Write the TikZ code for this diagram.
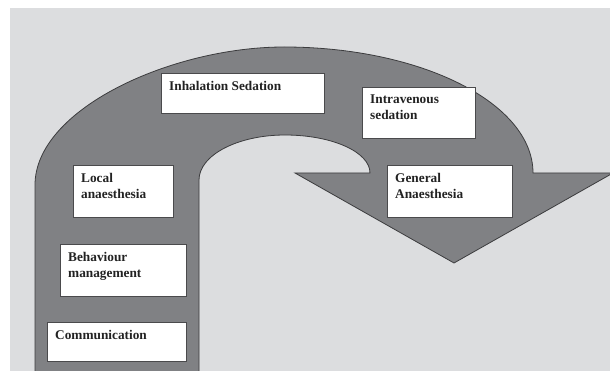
\documentclass[tikz,border=0pt]{standalone}
\usepackage{fontspec}
\setmainfont{Liberation Serif}
\definecolor{bgc}{HTML}{DCDDDF}
\definecolor{arrowc}{HTML}{808184}
\definecolor{edgec}{HTML}{3C3C3E}
\definecolor{boxline}{HTML}{4A4A4C}
\definecolor{txtc}{HTML}{222222}
\begin{document}
\begin{tikzpicture}[x=1pt,y=-1pt,
  box/.style={draw=boxline,fill=white,line width=0.9pt,inner sep=0pt,anchor=north west},
  lbl/.style={font=\bfseries\fontsize{13.3}{16}\selectfont,align=left,anchor=north west,inner sep=0pt,text=txtc}]
\useasboundingbox (0,0) rectangle (610,371);
\fill[white] (0,0) rectangle (610,371);
\fill[bgc] (10,8) rectangle (610,371);
\begin{scope}
\clip (10,8) rectangle (610,371);
\draw[fill=arrowc, draw=edgec, line width=0.8pt]
  (35,380) -- (35,185)
  .. controls (35,109) and (172,47) .. (284,47)
  .. controls (421,47) and (533,103) .. (533,173)
  -- (613,173) -- (454,263) -- (295,173) -- (370,173)
  .. controls (370,152) and (332,135) .. (285,135)
  .. controls (238,135) and (199,155) .. (199,180)
  -- (199,380) -- cycle;
\end{scope}
\node[box, minimum width=163, minimum height=40] (inh) at (161,73) {};
\node[box, minimum width=113, minimum height=51] (iv) at (362,87) {};
\node[box, minimum width=100, minimum height=52] (loc) at (73,165) {};
\node[box, minimum width=125, minimum height=52] (gen) at (387,165) {};
\node[box, minimum width=126, minimum height=52] (beh) at (60,244) {};
\node[box, minimum width=139, minimum height=39] (com) at (47,322) {};
\node[lbl] (tinh) at ([shift={(8,8)}]inh.north west) {Inhalation Sedation};
\node[lbl] (tiv) at ([shift={(8,8)}]iv.north west) {Intravenous\\sedation};
\node[lbl] (tloc) at ([shift={(8,8)}]loc.north west) {Local\\anaesthesia};
\node[lbl] (tgen) at ([shift={(8,8)}]gen.north west) {General\\Anaesthesia};
\node[lbl] (tbeh) at ([shift={(8,8)}]beh.north west) {Behaviour\\management};
\node[lbl] (tcom) at ([shift={(8,8)}]com.north west) {Communication};
\end{tikzpicture}
\end{document}
